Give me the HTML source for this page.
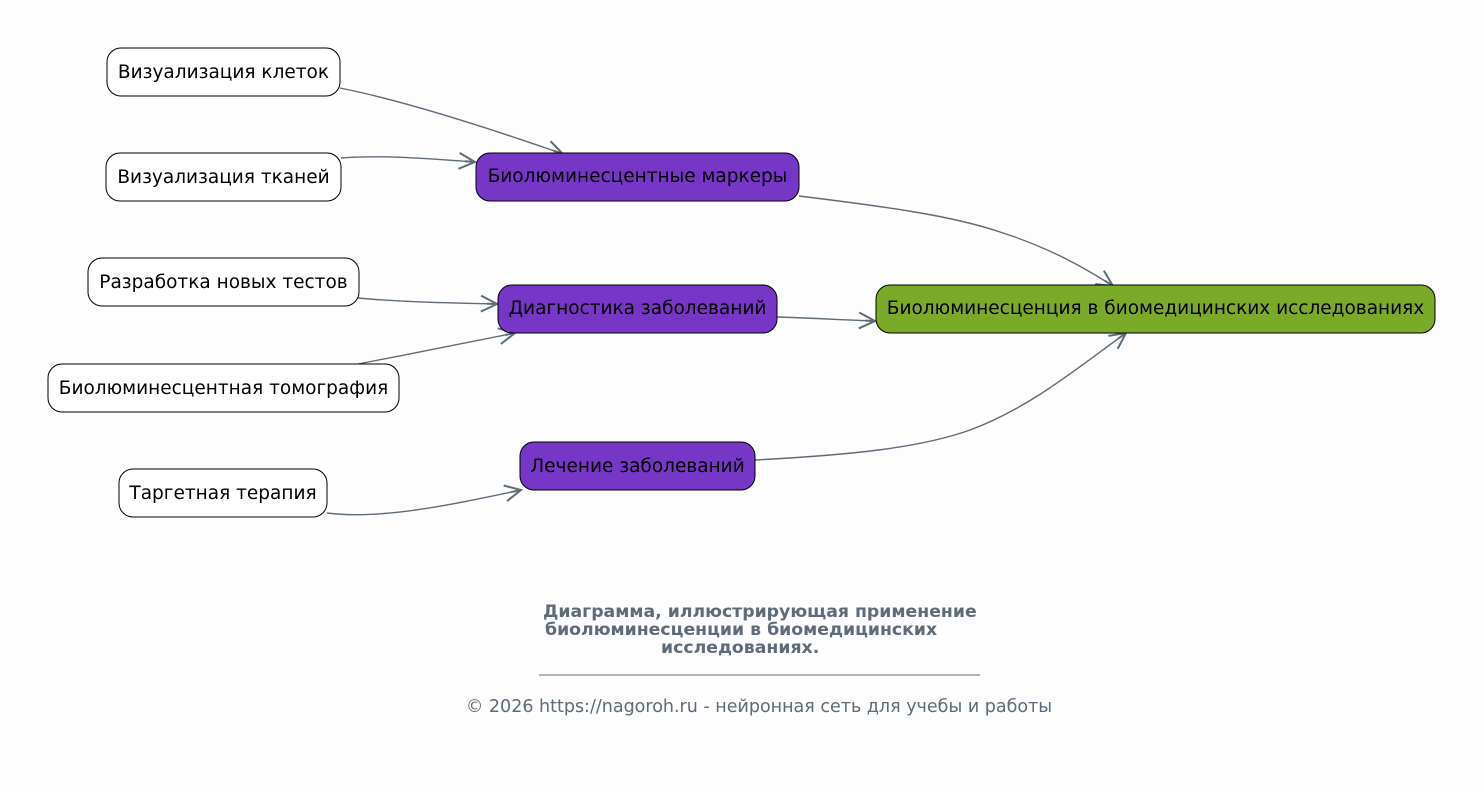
<!DOCTYPE html>
<html><head><meta charset="utf-8"><style>
body{margin:0;background:#fdfdfd;}
svg{display:block}
text{font-family:"DejaVu Sans","Liberation Sans",sans-serif;}
</style></head><body>
<svg width="1483" height="791" viewBox="0 0 1483 791" xmlns="http://www.w3.org/2000/svg">
<rect width="1483" height="791" fill="#fdfdfd"/>
<defs>
<marker id="a" viewBox="0 0 20 20" refX="18" refY="10" markerWidth="20" markerHeight="20" markerUnits="userSpaceOnUse" orient="auto">
<path d="M2,2 L18,10 L2,18 M8,10 L18,10" fill="none" stroke="#5f6b78" stroke-width="2"/>
</marker>
</defs>
<g fill="none" stroke="#5f6b78" stroke-width="1.4" marker-end="url(#a)">
<path d="M340,88 C400,100 480,125 563,154"/>
<path d="M341,158 C380,155 420,158 475,162"/>
<path d="M799,196 C880,206 950,215 1000,232 C1050,248 1085,268 1113,286"/>
<path d="M358,298 C400,302 450,303 497,304"/>
<path d="M358,364 C410,354 460,344 515,333"/>
<path d="M777,317 C810,318 845,320 875,321"/>
<path d="M755,460 C850,455 920,448 970,430 C1030,408 1080,366 1126,333"/>
<path d="M327,513 C380,520 450,505 521,490"/>
</g>
<g stroke="#000" stroke-width="1">
<rect x="107" y="48" width="233" height="48" rx="14" fill="#fff"/>
<rect x="106" y="153" width="235" height="48" rx="14" fill="#fff"/>
<rect x="88" y="258" width="271" height="48" rx="14" fill="#fff"/>
<rect x="48" y="364" width="351" height="48" rx="14" fill="#fff"/>
<rect x="119" y="469" width="208" height="48" rx="14" fill="#fff"/>
<rect x="476" y="153" width="323" height="48" rx="14" fill="#7636c6"/>
<rect x="498" y="285" width="279" height="48" rx="14" fill="#7636c6"/>
<rect x="520" y="442" width="235" height="48" rx="14" fill="#7636c6"/>
<rect x="876" y="285" width="559" height="48" rx="14" fill="#7aaa28"/>
</g>
<g font-size="18.5" fill="#000" text-anchor="middle">
<text x="223.5" y="78">Визуализация клеток</text>
<text x="223.5" y="183">Визуализация тканей</text>
<text x="223.5" y="288">Разработка новых тестов</text>
<text x="223.5" y="394">Биолюминесцентная томография</text>
<text x="223" y="499">Таргетная терапия</text>
<text x="637.5" y="182">Биолюминесцентные маркеры</text>
<text x="637.5" y="314">Диагностика заболеваний</text>
<text x="637.5" y="472">Лечение заболеваний</text>
<text x="1155.5" y="314">Биолюминесценция в биомедицинских исследованиях</text>
</g>
<g font-size="17.3" font-weight="bold" fill="#5f6b78">
<text x="543" y="617">Диаграмма, иллюстрирующая применение</text>
<text x="545" y="635">биолюминесценции в биомедицинских</text>
<text x="661" y="653">исследованиях.</text>
</g>
<line x1="539" y1="675" x2="980" y2="675" stroke="#5f6b78" stroke-width="1"/>
<text x="759" y="712" font-size="17.5" fill="#5f6b78" text-anchor="middle">© 2026 https://nagoroh.ru - нейронная сеть для учебы и работы</text>
</svg>
</body></html>
